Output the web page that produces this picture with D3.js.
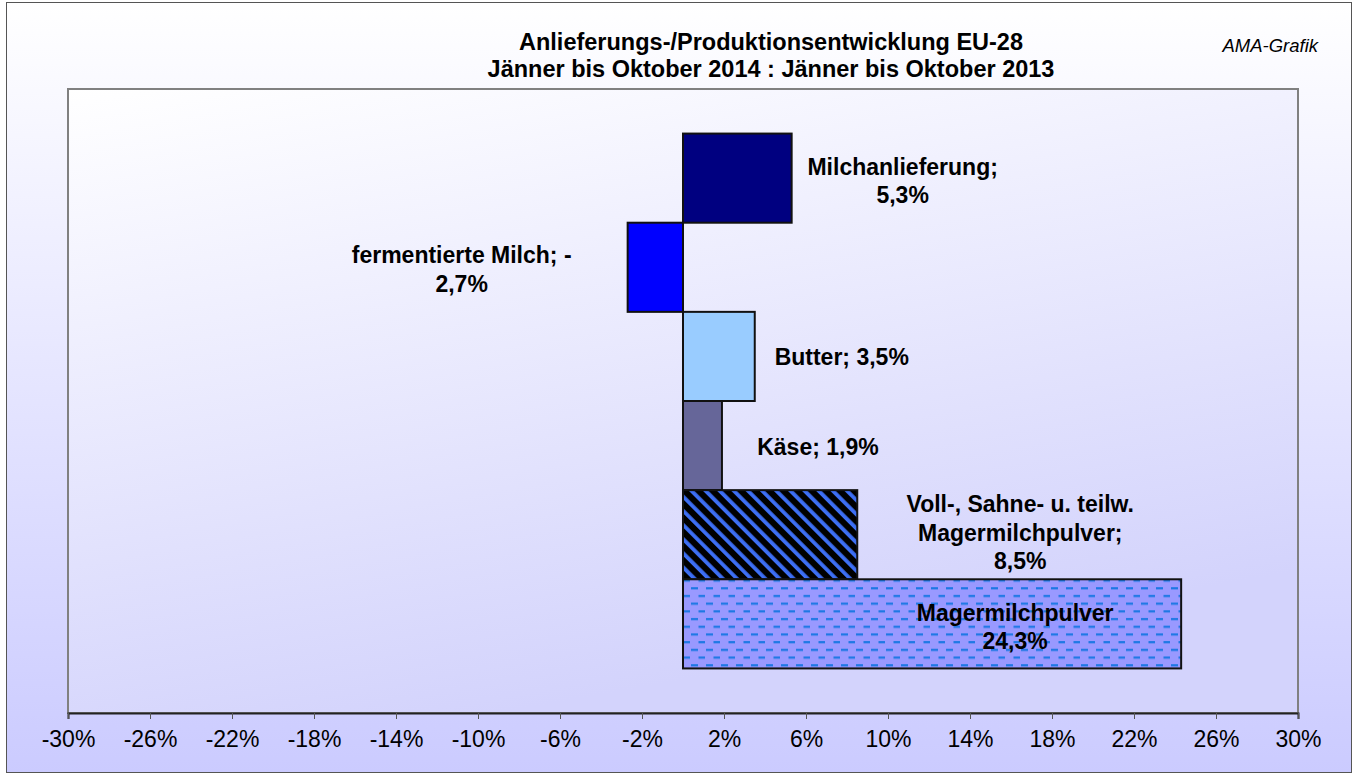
<!DOCTYPE html>
<html>
<head>
<meta charset="utf-8">
<script src="https://cdn.jsdelivr.net/npm/d3@7"></script>
<style>
  body { margin: 0; background: #fff; }
  text { font-family: Arial, "Liberation Sans", sans-serif; }
</style>
</head>
<body>
<svg width="1355" height="775"></svg>
<script>
const categories = [
  "Milchanlieferung",
  "fermentierte Milch",
  "Butter",
  "Käse",
  "Voll-, Sahne- u. teilw. Magermilchpulver",
  "Magermilchpulver"
];
const values = [5.3, -2.7, 3.5, 1.9, 8.5, 24.3];
const labelLines = [
  ["Milchanlieferung;", "5,3%"],
  ["fermentierte Milch; -", "2,7%"],
  ["Butter; 3,5%"],
  ["Käse; 1,9%"],
  ["Voll-, Sahne- u. teilw.", "Magermilchpulver;", "8,5%"],
  ["Magermilchpulver", "24,3%"]
];
const tickValues = [-30, -26, -22, -18, -14, -10, -6, -2, 2, 6, 10, 14, 18, 22, 26, 30];
const titleLines = [
  "Anlieferungs-/Produktionsentwicklung EU-28",
  "Jänner bis Oktober 2014 : Jänner bis Oktober 2013"
];

// label offsets from bar end / band centre (Excel labels were moved by hand)
const labelDx = [111, -166, 87, 96, 163, -166];
const labelDy = [3, 2, 1, 1, -2, 3];
const fills = ["#000080", "#0000ff", "#99ccff", "#666699", "url(#stripes)", "url(#dashes)"];

const svg = d3.select("svg");
const width = +svg.attr("width");
const height = +svg.attr("height");
const margin = { left: 68, right: 57, top: 89, bottom: 62 };
const innerWidth = width - margin.left - margin.right;
const innerHeight = height - margin.top - margin.bottom;

const defs = svg.append("defs");
const bgGrad = defs.append("linearGradient")
  .attr("id", "bgGrad").attr("x1", 0).attr("y1", 0).attr("x2", 0).attr("y2", 1);
bgGrad.append("stop").attr("offset", "0%").attr("stop-color", "#ffffff");
bgGrad.append("stop").attr("offset", "100%").attr("stop-color", "#cbcbff");

const plotGrad = defs.append("linearGradient")
  .attr("id", "plotGrad").attr("x1", 0).attr("y1", 0).attr("x2", 0.35).attr("y2", 1);
plotGrad.append("stop").attr("offset", "0%").attr("stop-color", "#ffffff");
plotGrad.append("stop").attr("offset", "100%").attr("stop-color", "#d3d3fc");

const stripes = defs.append("pattern")
  .attr("id", "stripes")
  .attr("patternUnits", "userSpaceOnUse")
  .attr("width", 10).attr("height", 10)
  .attr("patternTransform", "rotate(-45)");
stripes.append("rect").attr("width", 10).attr("height", 10).attr("fill", "#000");
stripes.append("rect").attr("x", 0).attr("width", 3.8).attr("height", 10).attr("fill", "#3d6ff5");

const dashes = defs.append("pattern")
  .attr("id", "dashes")
  .attr("patternUnits", "userSpaceOnUse")
  .attr("width", 15).attr("height", 15.4);
dashes.append("rect").attr("width", 15).attr("height", 15.4).attr("fill", "#9999ff");
dashes.append("rect").attr("x", 1).attr("y", 2).attr("width", 7).attr("height", 2.2).attr("fill", "#1c78e4");
dashes.append("rect").attr("x", 8.5).attr("y", 9.7).attr("width", 7).attr("height", 2.2).attr("fill", "#1c78e4");

// chart area
svg.append("rect")
  .attr("x", 6.5).attr("y", 2.5)
  .attr("width", width - 10).attr("height", height - 5)
  .attr("fill", "url(#bgGrad)")
  .attr("stroke", "#555").attr("stroke-width", 1);

// plot area
svg.append("rect")
  .attr("x", margin.left).attr("y", margin.top)
  .attr("width", innerWidth).attr("height", innerHeight)
  .attr("fill", "url(#plotGrad)")
  .attr("stroke", "#808080").attr("stroke-width", 2);

const xScale = d3.scaleLinear()
  .domain([-30, 30])
  .range([margin.left, width - margin.right]);
const yScale = d3.scaleBand()
  .domain(categories)
  .range([margin.top, height - margin.bottom])
  .paddingInner(0)
  .paddingOuter(0.5);

svg.selectAll("rect.bar")
  .data(categories)
  .enter()
  .append("rect")
  .attr("class", "bar")
  .attr("x", (d, i) => xScale(Math.min(0, values[i])))
  .attr("y", d => yScale(d))
  .attr("width", (d, i) => Math.abs(xScale(values[i]) - xScale(0)))
  .attr("height", yScale.bandwidth())
  .attr("fill", (d, i) => fills[i])
  .attr("stroke", "#111")
  .attr("stroke-width", 2);

// x axis
const xAxis = d3.axisBottom(xScale)
  .tickValues(tickValues)
  .tickFormat(d => d + "%")
  .tickSize(6)
  .tickPadding(12);
const xAxisG = svg.append("g")
  .attr("transform", `translate(0,${height - margin.bottom})`)
  .call(xAxis);
xAxisG.select(".domain").attr("stroke", "#222").attr("stroke-width", 2);
xAxisG.selectAll(".tick line").attr("stroke", "#555");
xAxisG.selectAll(".tick text")
  .attr("font-size", "23px")
  .attr("fill", "#000")
  .style("font-family", "Arial, 'Liberation Sans', sans-serif");

// bar labels
const lineH = 28.5;
categories.forEach((c, i) => {
  const lines = labelLines[i];
  const cx = xScale(values[i]) + labelDx[i];
  const cy = yScale(c) + yScale.bandwidth() / 2 + labelDy[i];
  const t = svg.append("text")
    .attr("text-anchor", "middle")
    .attr("font-size", "23px")
    .attr("font-weight", "bold")
    .attr("fill", "#000");
  lines.forEach((l, j) => {
    t.append("tspan")
      .attr("x", cx)
      .attr("y", cy + (j - (lines.length - 1) / 2) * lineH + 8)
      .text(l);
  });
});

// title
titleLines.forEach((l, j) => {
  svg.append("text")
    .attr("x", 771)
    .attr("y", 50 + j * 27)
    .attr("text-anchor", "middle")
    .attr("font-size", "23.5px")
    .attr("font-weight", "bold")
    .text(l);
});

svg.append("text")
  .attr("x", 1318)
  .attr("y", 52)
  .attr("text-anchor", "end")
  .attr("font-size", "18.5px")
  .attr("font-style", "italic")
  .text("AMA-Grafik");
</script>
</body>
</html>
